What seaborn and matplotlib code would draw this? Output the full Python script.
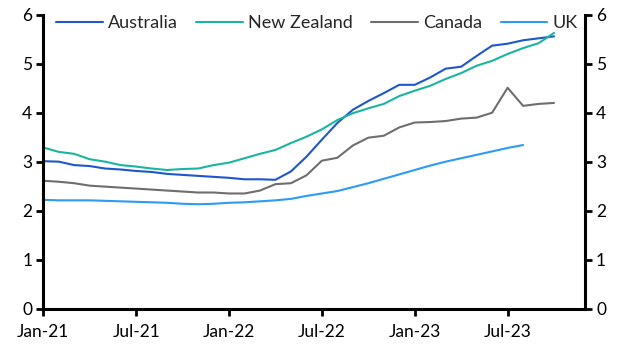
import numpy as np
import pandas as pd
import matplotlib
matplotlib.use("Agg")
import matplotlib.pyplot as plt
import seaborn as sns

# monthly, Jan-21 .. Oct-23
months = pd.date_range("2021-01-01", "2023-10-01", freq="MS")

australia = [3.01, 3.00, 2.93, 2.91, 2.86, 2.84, 2.81, 2.79, 2.75, 2.73,
             2.71, 2.69, 2.67, 2.64, 2.64, 2.63, 2.80, 3.10, 3.45, 3.79,
             4.06, 4.24, 4.40, 4.57, 4.57, 4.72, 4.90, 4.94, 5.16, 5.37,
             5.41, 5.48, 5.52, 5.56]
new_zealand = [3.29, 3.20, 3.16, 3.05, 3.00, 2.93, 2.90, 2.86, 2.83, 2.85,
               2.86, 2.93, 2.98, 3.07, 3.16, 3.24, 3.38, 3.51, 3.66, 3.85,
               3.99, 4.09, 4.18, 4.34, 4.45, 4.55, 4.69, 4.81, 4.96, 5.06,
               5.20, 5.32, 5.42, 5.63]
canada = [2.61, 2.59, 2.56, 2.51, 2.49, 2.47, 2.45, 2.43, 2.41, 2.39,
          2.37, 2.37, 2.35, 2.35, 2.41, 2.54, 2.56, 2.72, 3.02, 3.08,
          3.33, 3.49, 3.53, 3.70, 3.80, 3.81, 3.83, 3.88, 3.90, 4.00,
          4.51, 4.14, 4.18, 4.20]
uk = [2.22, 2.21, 2.21, 2.21, 2.20, 2.19, 2.18, 2.17, 2.16, 2.14,
      2.13, 2.14, 2.16, 2.17, 2.19, 2.21, 2.24, 2.30, 2.35, 2.40,
      2.48, 2.56, 2.65, 2.74, 2.83, 2.92, 3.00, 3.07, 3.14, 3.21,
      3.28, 3.34, np.nan, np.nan]

tick_labels = ["Jan-21", "Jul-21", "Jan-22", "Jul-22", "Jan-23", "Jul-23"]

df = pd.DataFrame({"month": np.arange(len(months)),
                   "Australia": australia, "New Zealand": new_zealand,
                   "Canada": canada, "UK": uk})
long = df.melt(id_vars="month", var_name="country", value_name="value").dropna()

colors = {"Australia": "#1f56c9", "New Zealand": "#1ab5a0",
          "Canada": "#6e6e6e", "UK": "#2b9bf4"}

sns.set_style("white")
plt.rcParams["font.family"] = ["Lato", "DejaVu Sans"]

fig = plt.figure(figsize=(6.27, 3.53), dpi=100)
ax = fig.add_axes([0.069, 0.126, 0.864, 0.832])

sns.lineplot(data=long, x="month", y="value", hue="country",
             palette=colors, linewidth=1.5, ax=ax)

ax.set_xlim(0, 35)
ax.set_ylim(0, 6)
ax.set_xticks(np.arange(0, 36, 6))
ax.set_xticklabels(tick_labels)
ax.set_yticks(range(7))
ax.set_xlabel("")
ax.set_ylabel("")

for side in ["left", "right", "bottom"]:
    ax.spines[side].set_visible(True)
    ax.spines[side].set_color("black")
    ax.spines[side].set_linewidth(2.2)
ax.spines["top"].set_visible(False)

ax.tick_params(axis="both", direction="out", length=5, width=2,
               labelsize=12.5, colors="black", pad=3)
ax.tick_params(axis="y", left=True, right=True, labelleft=True, labelright=True)
ax.tick_params(axis="x", bottom=True, pad=6)

leg = ax.legend(loc="upper center", bbox_to_anchor=(0.505, 1.055), ncol=4,
                frameon=False, fontsize=13, handlelength=2.6,
                handletextpad=0.3, columnspacing=1.0)

fig.savefig("out.png", dpi=100)
